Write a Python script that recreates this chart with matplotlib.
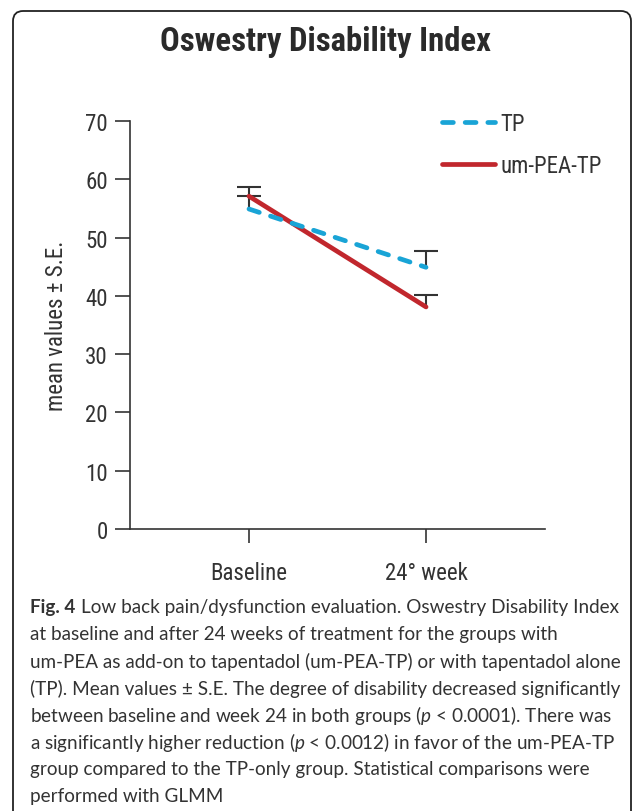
import matplotlib
matplotlib.use("Agg")
import matplotlib.pyplot as plt
from matplotlib.patches import FancyBboxPatch
from matplotlib import font_manager

# ---------------- data ----------------
categories = ["Baseline", "24° week"]
tp_mean = [54.9, 44.9]
tp_se = [2.2, 2.8]
pea_mean = [57.1, 38.1]
pea_se = [1.6, 2.0]
y_ticks = [0, 10, 20, 30, 40, 50, 60, 70]
series_names = ["TP", "um-PEA-TP"]

title = "Oswestry Disability Index"
ylabel = "mean values ± S.E."
caption_bold = "Fig. 4"
caption_lines = [
    "Low back pain/dysfunction evaluation. Oswestry Disability Index",
    "at baseline and after 24 weeks of treatment for the groups with",
    "um-PEA as add-on to tapentadol (um-PEA-TP) or with tapentadol alone",
    "(TP). Mean values ± S.E. The degree of disability decreased significantly",
    "between baseline and week 24 in both groups ($\\it{p}$ < 0.0001). There was",
    "a significantly higher reduction ($\\it{p}$ < 0.0012) in favor of the um-PEA-TP",
    "group compared to the TP-only group. Statistical comparisons were",
    "performed with GLMM",
]

# ---------------- fonts ----------------
names = {f.name for f in font_manager.fontManager.ttflist}
def pick(*cands):
    for c in cands:
        if c in names:
            return c
    return "DejaVu Sans"
cond = pick("Roboto Condensed", "Liberation Sans Narrow", "Roboto", "Lato")
capfont = pick("Lato", "Roboto", "Open Sans")
plt.rcParams["mathtext.fontset"] = "custom"
plt.rcParams["mathtext.it"] = capfont + ":italic"
plt.rcParams["mathtext.rm"] = capfont

dark = "#333333"
blue = "#19a4d6"
red = "#c1272d"

W, H = 634, 812
fig = plt.figure(figsize=(W / 100, H / 100), dpi=100)
renderer = fig.canvas.get_renderer()

# rounded frame (open at bottom)
frame = FancyBboxPatch((13 / W, -0.05), (631 - 13) / W, (812 - 12) / H + 0.05,
                       boxstyle="round,pad=0,rounding_size=0.016",
                       transform=fig.transFigure, fill=False, edgecolor="#222222",
                       linewidth=1.3, mutation_aspect=W / H)
fig.patches.append(frame)

def fit(txt, target_w):
    bb = txt.get_window_extent(renderer)
    txt.set_fontsize(txt.get_fontsize() * target_w / bb.width)

t = fig.text(325 / W, 1 - 42 / H, title, ha="center", va="center",
             fontsize=22, fontweight="bold", family=cond, color="#2a2a2a")
fit(t, 331)

ax = fig.add_axes([130 / W, 1 - 530 / H, (545 - 130) / W, (530 - 122) / H])
x = list(range(len(categories)))

# error bars (upper only)
for m, s in ((pea_mean, pea_se), (tp_mean, tp_se)):
    _, caps, _ = ax.errorbar(x, m, yerr=[[0] * len(s), s], fmt="none", ecolor=dark,
                             elinewidth=1.5, capsize=8.5, capthick=1.5, zorder=1)
    caps[0].set_visible(False)

ax.plot(x, pea_mean, color=red, lw=3.4, solid_capstyle="round", zorder=2,
        label=series_names[1])
ax.plot(x, tp_mean, color=blue, lw=3.4, dashes=(2.3, 2.5),
        dash_capstyle="round", zorder=3, label=series_names[0])

ax.set_xlim(-0.672, 1.672)
ax.set_ylim(0, 70)
ax.set_yticks(y_ticks)
ax.set_xticks(x)
ax.set_xticklabels(categories)
for sp in ("top", "right"):
    ax.spines[sp].set_visible(False)
for sp in ("left", "bottom"):
    ax.spines[sp].set_color(dark)
    ax.spines[sp].set_linewidth(1.2)
ax.tick_params(axis="y", length=11, width=1.2, color=dark, pad=5,
               labelsize=16.5, labelcolor=dark)
ax.tick_params(axis="x", length=10, width=1.2, color=dark, pad=13,
               labelsize=16.5, labelcolor=dark)
for lab in ax.get_xticklabels() + ax.get_yticklabels():
    lab.set_family(cond)
ax.set_ylabel(ylabel, fontsize=16.5, family=cond, color=dark, labelpad=12)

handles, labels = ax.get_legend_handles_labels()
leg = fig.legend([handles[1], handles[0]], [labels[1], labels[0]],
                 loc="upper left", bbox_to_anchor=(442 / W, 1 - 113 / H),
                 frameon=False, handlelength=2.3, handletextpad=0.25,
                 labelspacing=0.85, borderpad=0, borderaxespad=0,
                 prop={"family": cond, "size": 16.5})
for tx in leg.get_texts():
    tx.set_color(dark)

# caption
y0 = 608
lh = 27
fs = 13.0
bold = fig.text(30 / W, 1 - y0 / H, caption_bold, fontsize=fs, fontweight="bold",
                family=capfont, color=dark, va="center", ha="left")
first = fig.text(0, 1 - y0 / H, caption_lines[0], fontsize=fs,
                 family=capfont, color=dark, va="center", ha="left")
w_bold = bold.get_window_extent(renderer).width
w_first = first.get_window_extent(renderer).width
gap = 0.3 * fs * 100 / 72
scale = (618 - 30) / (w_bold + gap + w_first)
fs = fs * scale
bold.set_fontsize(fs)
first.set_fontsize(fs)
w_bold = bold.get_window_extent(renderer).width
gap = 0.3 * fs * 100 / 72
first.set_x((30 + w_bold + gap) / W)
for i, line in enumerate(caption_lines[1:], start=1):
    fig.text(30 / W, 1 - (y0 + i * lh) / H, line, fontsize=fs,
             family=capfont, color=dark, va="center", ha="left")

fig.savefig("out.png", dpi=100)
